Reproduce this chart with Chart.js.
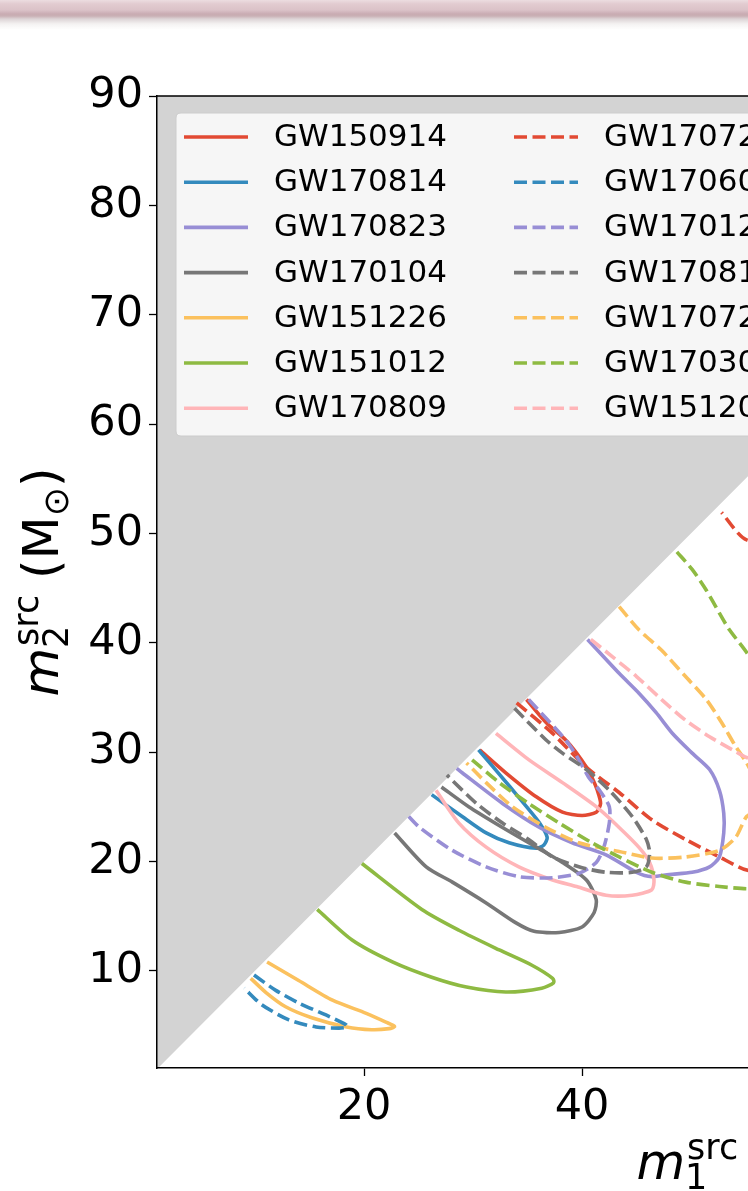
<!DOCTYPE html>
<html>
<head>
<meta charset="utf-8">
<script src="https://cdn.jsdelivr.net/npm/chart.js@4.4.1/dist/chart.umd.min.js"></script>
<style>
  html, body { margin: 0; padding: 0; background: #fff; overflow: hidden; }
  #band {
    position: absolute; left: 0; top: 0; width: 100%; height: 30px; z-index: 2;
    background: linear-gradient(to bottom, #ecdde0 0px, #e2cbd0 4px, #dbc2c8 10px, #c9abb2 14px, #c9b0b5 16px, #ddd4d6 19px, #f4f2f2 24px, rgba(255,255,255,0) 30px);
  }
  #wrap { position: absolute; left: 0; top: 0; width: 1395px; height: 1191px; }
</style>
</head>
<body>
<div id="band"></div>
<div id="wrap"><canvas id="chart_masses" width="1395" height="1191"></canvas></div>
<script>
const massCanvas = document.getElementById("chart_masses");

const eventNames = [
    'GW150914', 'GW170814', 'GW170823', 'GW170104', 'GW151226', 'GW151012', 'GW170809',
    'GW170729', 'GW170608', 'GW170121', 'GW170818', 'GW170727', 'GW170304', 'GW151205'
];
const eventColors = [
    '#E24A33', '#348ABD', '#988ED5', '#777777', '#FBC15E', '#8EBA42', '#FFB5B8',
    '#E24A33', '#348ABD', '#988ED5', '#777777', '#FBC15E', '#8EBA42', '#FFB5B8'
];

const xTicks = [20, 40, 60, 80, 100];
const yTicks = [10, 20, 30, 40, 50, 60, 70, 80, 90];
const diagonal = [1, 110];

// 90% credible contours in the (m1, m2) source-frame plane
const gw150914 = [[34.9,34.8],[36.7,32.7],[38.5,31.1],[39.5,29.9],[40.4,28.6],[40.9,27.7],[41.4,26.5],[41.7,25.3],[41.3,24.5],[40.0,24.2],[38.2,24.5],[35.8,25.9],[33.0,28.1],[30.6,30.2]];
const gw170814 = [[30.5,30.2],[33.4,26.8],[34.9,25.0],[36.1,23.5],[36.8,22.2],[36.5,21.5],[35.8,21.2],[33.3,21.7],[31.2,22.6],[29.0,24.1],[26.2,26.1]];
const gw170823 = [[40.5,40.3],[43.4,37.2],[45.2,35.4],[46.8,33.6],[48.3,31.7],[50.1,29.9],[51.7,28.4],[52.6,26.5],[53.0,24.4],[53.0,22.6],[52.6,20.4],[51.7,19.5],[50.1,19.0],[48.0,18.8],[46.4,18.6],[45.0,19.0],[42.2,20.6],[39.1,21.7],[36.1,23.1],[32.7,25.3],[29.0,28.1],[28.5,28.5]];
const gw170104 = [[27.1,26.8],[29.6,25.0],[32.7,23.1],[35.8,21.3],[38.2,19.9],[40.4,18.3],[41.3,16.5],[41.1,15.3],[40.0,14.0],[37.9,13.5],[35.6,13.6],[33.9,14.4],[31.2,16.2],[28.1,18.1],[25.7,19.5],[22.8,22.6]];
const gw151226 = [[11.1,10.8],[14.0,9.1],[17.1,7.3],[20.2,6.1],[22.0,5.3],[22.8,4.9],[22.3,4.7],[20.7,4.6],[18.4,4.85],[15.2,5.7],[12.8,6.7],[11.0,8.0],[9.6,9.3]];
const gw151012 = [[19.8,19.8],[25.3,15.6],[28.7,13.7],[32.4,11.9],[35.4,10.5],[37.3,9.3],[37.4,8.9],[36.3,8.4],[33.0,8.05],[29.4,8.5],[26.2,9.4],[22.6,10.8],[18.9,12.8],[15.7,15.6]];
const gw170809 = [[32.1,31.7],[35.1,29.3],[38.2,27.2],[41.3,25.0],[43.4,23.1],[45.2,21.3],[46.2,19.9],[46.6,18.3],[46.4,17.4],[44.6,16.9],[42.2,16.9],[39.5,17.7],[37.3,18.3],[34.2,19.5],[31.2,21.3],[28.7,23.5],[26.6,26.5]];
const gw170729 = [[34.0,34.5],[37.3,31.7],[40.4,28.6],[43.4,26.3],[46.4,23.8],[49.5,22.0],[52.6,20.4],[55.1,19.2],[62,17.8],[72,17.2],[82,18.5],[90,23],[90,31],[84,39],[74,45],[63,48],[55.1,49.4],[52.8,51.9]];
const gw170608 = [[9.9,9.6],[11.9,8.2],[14.0,7.05],[16.5,5.95],[18.35,5.05],[18.45,4.85],[17.7,4.75],[15.6,4.85],[13.1,5.5],[10.6,6.9],[9.0,8.4]];
const gw170121 = [[35.1,34.8],[38.5,31.1],[39.7,29.3],[40.6,27.7],[41.6,26.5],[42.5,25.0],[42.5,23.5],[42.0,21.3],[41.3,19.9],[39.7,18.9],[37.3,18.5],[34.2,18.6],[31.2,19.5],[28.1,21.0],[25.1,23.1],[24.1,24.1]];
const gw170818 = [[33.8,34.0],[36.7,31.1],[38.2,29.9],[40.4,28.4],[42.5,26.5],[44.6,24.1],[45.9,22.0],[46.2,20.8],[45.9,19.5],[44.6,19.0],[42.2,19.0],[39.7,19.5],[37.3,20.4],[35.1,22.0],[32.7,23.5],[30.3,25.3],[28.1,27.4],[27.6,27.9]];
const gw170727 = [[43.4,43.3],[45.2,41.2],[47.3,39.3],[49.5,36.9],[51.4,34.8],[52.8,32.7],[54.1,30.5],[55.1,29.0],[56.3,26.5],[56.5,25.0],[55.1,24.1],[54.1,22.2],[52.6,21.0],[49.5,20.4],[46.4,20.3],[43.4,20.9],[39.7,21.7],[36.7,23.1],[33.6,25.0],[31.2,27.2],[29.4,29.0]];
const gw170304 = [[48.7,48.3],[50.1,46.7],[51.4,44.8],[52.6,42.7],[53.5,41.2],[55.1,39.1],[59,33],[62,26],[62.5,20],[60,17.6],[55.1,17.5],[52.6,17.7],[49.5,18.1],[46.4,19.0],[43.4,20.4],[40.9,21.7],[37.9,23.5],[35.1,25.3],[32.4,27.2],[29.9,29.3]];
const gw151205 = [[40.8,40.3],[42.8,38.7],[45.0,36.9],[47.3,34.8],[49.5,32.9],[51.7,31.4],[53.8,30.2],[55.1,29.5],[62,27],[75,25],[90,27],[100,36],[96,50],[86,62],[76,70],[73,72.5]];

const contours = [
    gw150914, gw170814, gw170823, gw170104, gw151226, gw151012, gw170809,
    gw170729, gw170608, gw170121, gw170818, gw170727, gw170304, gw151205
];

const contourSets = contours.map((points, i) => ({
    label: eventNames[i],
    data: points.map(p => ({ x: p[0], y: p[1] })),
    showLine: true,
    borderColor: eventColors[i],
    borderWidth: 3.6,
    borderDash: i >= 7 ? [13, 5.5] : [],
    borderJoinStyle: 'round',
    pointRadius: 0,
    pointHoverRadius: 0,
    tension: 0.25,
    fill: false,
    order: contours.length - i
}));

const forbidden = {
    type: 'line',
    label: 'm2 > m1',
    data: diagonal.map(m => ({ x: m, y: m })),
    fill: 'end',
    backgroundColor: '#d3d3d3',
    borderWidth: 0,
    pointRadius: 0,
    order: 100
};

// mathtext-like axis label: m_i^src (M_sun)
function drawMassLabel(c, sub, cx, baseY, angle) {
    const fIt = 'italic 50px "DejaVu Sans"';
    const fBig = '50px "DejaVu Sans"';
    const fSmall = '35px "DejaVu Sans"';
    c.save();
    c.translate(cx, baseY);
    c.rotate(angle);
    c.fillStyle = '#000';
    c.textBaseline = 'alphabetic';
    c.font = fIt; const wm = c.measureText('m').width;
    c.font = fSmall;
    const wsrc = c.measureText('src').width, wsub = c.measureText(sub).width, wdot = c.measureText('\u2299').width;
    c.font = fBig;
    const wp = c.measureText('(').width, wM = c.measureText('M').width, wq = c.measureText(')').width, wsp = c.measureText(' ').width;
    const total = wm + Math.max(wsrc, wsub) + 2 + wsp + wp + wM + wdot + wq;
    let x = -total / 2;
    c.font = fIt; c.fillText('m', x, 0); x += wm;
    c.font = fSmall; c.fillText('src', x + 2, -20); c.fillText(sub, x, 10); x += Math.max(wsrc, wsub) + 2;
    c.font = fBig; x += wsp; c.fillText('(', x, 0); x += wp; c.fillText('M', x, 0); x += wM;
    c.font = fSmall; c.fillText('\u2299', x, 10); x += wdot;
    c.font = fBig; c.fillText(')', x, 0);
    c.restore();
}

const legendBox = {
    id: 'legendBox',
    afterDatasetsDraw(chart) {
        const c = chart.ctx;
        const area = chart.chartArea;
        const left = area.left + 19, top = area.top + 17;
        c.save();
        c.fillStyle = 'rgba(255,255,255,0.8)';
        c.strokeStyle = '#cccccc';
        c.lineWidth = 1;
        const w = 612, h = 323, r = 5;
        c.beginPath();
        c.moveTo(left + r, top);
        c.lineTo(left + w - r, top); c.quadraticCurveTo(left + w, top, left + w, top + r);
        c.lineTo(left + w, top + h - r); c.quadraticCurveTo(left + w, top + h, left + w - r, top + h);
        c.lineTo(left + r, top + h); c.quadraticCurveTo(left, top + h, left, top + h - r);
        c.lineTo(left, top + r); c.quadraticCurveTo(left, top, left + r, top);
        c.fill();
        c.stroke();
        c.font = '31px "DejaVu Sans"';
        c.textBaseline = 'middle';
        contourSets.forEach((ds, i) => {
            const col = Math.floor(i / 7), row = i % 7;
            const x0 = left + 8 + col * 330;
            const y = top + 24 + row * 45.2;
            c.strokeStyle = ds.borderColor;
            c.lineWidth = 3.6;
            c.setLineDash(ds.borderDash);
            c.beginPath(); c.moveTo(x0, y); c.lineTo(x0 + 64, y); c.stroke();
            c.setLineDash([]);
            c.fillStyle = '#000';
            c.fillText(ds.label, x0 + 90, y + 1);
        });
        c.restore();
    },
    afterDraw(chart) {
        const c = chart.ctx;
        const area = chart.chartArea;
        c.save();
        c.strokeStyle = '#000';
        c.lineWidth = 1.5;
        c.beginPath();
        c.moveTo(area.left, area.top); c.lineTo(area.right, area.top); c.lineTo(area.right, area.bottom);
        c.stroke();
        c.restore();
        drawMassLabel(c, '1', (area.left + area.right) / 2, 1179, 0);
        drawMassLabel(c, '2', 58, (area.top + area.bottom) / 2, -Math.PI / 2);
    }
};

Chart.defaults.font.family = '"DejaVu Sans"';

new Chart(massCanvas, {
    type: 'scatter',
    data: { datasets: [forbidden, ...contourSets] },
    plugins: [legendBox],
    options: {
        responsive: false,
        animation: false,
        devicePixelRatio: 1,
        events: [],
        layout: { padding: { top: 96, right: 50, bottom: 0, left: 0 } },
        plugins: { legend: { display: false }, tooltip: { enabled: false } },
        scales: {
            x: {
                type: 'linear',
                min: 1,
                max: 110,
                afterBuildTicks: (axis) => { axis.ticks = xTicks.map(v => ({ value: v })); },
                afterFit: (axis) => { axis.height = 123; },
                ticks: { color: '#000', font: { size: 43 }, padding: 6, autoSkip: false, maxRotation: 0 },
                grid: { drawOnChartArea: false, drawTicks: true, tickLength: 8, tickWidth: 1.3, tickColor: '#000' },
                border: { display: true, color: '#000', width: 1.5, z: 1 }
            },
            y: {
                type: 'linear',
                min: 1.1,
                max: 90,
                afterBuildTicks: (axis) => { axis.ticks = yTicks.map(v => ({ value: v })); },
                afterFit: (axis) => { axis.width = 157; },
                ticks: { color: '#000', font: { size: 43 }, padding: 6, autoSkip: false },
                grid: { drawOnChartArea: false, drawTicks: true, tickLength: 8, tickWidth: 1.3, tickColor: '#000' },
                border: { display: true, color: '#000', width: 1.5, z: 1 }
            }
        }
    }
});
</script>
</body>
</html>
